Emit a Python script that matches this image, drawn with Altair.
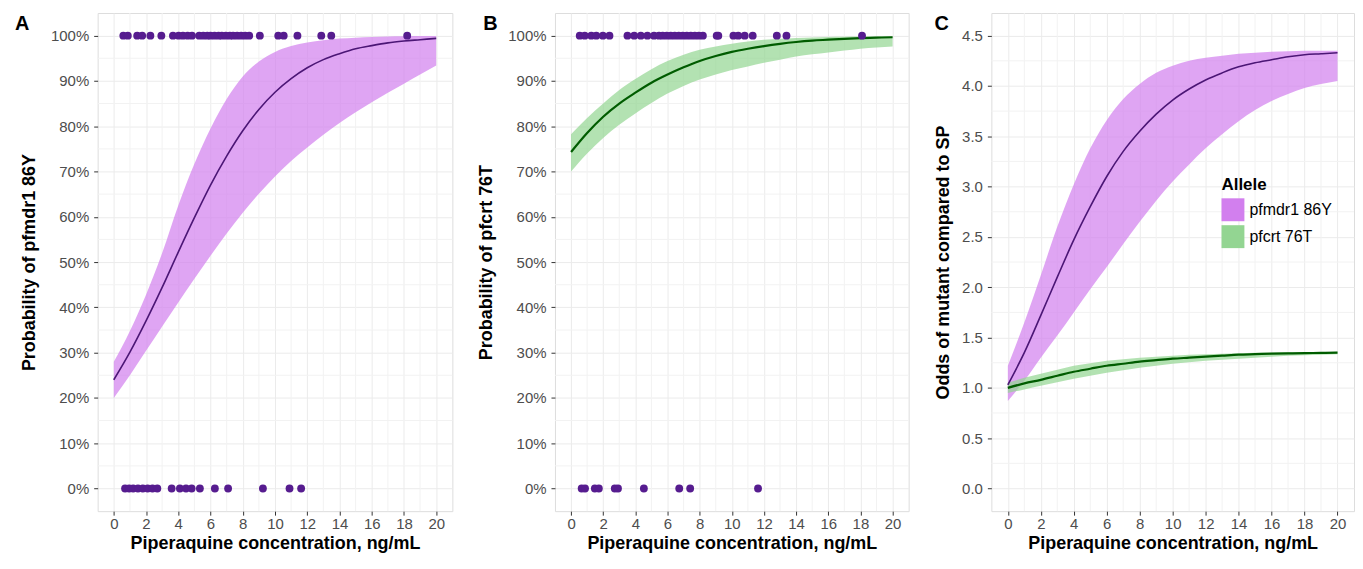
import altair as alt
import pandas as pd

FONT = "Liberation Sans"

# ---------------- data ----------------
conc = list(range(21))  # piperaquine concentration, ng/mL

# Panel A: probability of pfmdr1 86Y (%)
a_fit = [24.0, 30.1, 37.0, 44.4, 52.2, 59.8, 67.0, 73.4, 79.0, 83.7, 87.5, 90.5, 92.9, 94.7, 96.0, 97.1, 97.8, 98.4, 98.8, 99.1, 99.4]
a_lo = [20, 25, 30.4, 35.8, 41.1, 46.3, 51.4, 56.3, 60.9, 65.1, 68.9, 72.3, 75.3, 78.1, 80.7, 83.1, 85.3, 87.4, 89.4, 91.4, 93.4]
a_hi = [28, 34.8, 42.8, 52, 62.5, 71.7, 79.5, 86, 91, 94.3, 96.4, 97.7, 98.5, 99.0, 99.35, 99.55, 99.7, 99.8, 99.85, 99.9, 99.92]
a_mut = [0.59, 0.87, 1.45, 1.76, 2.27, 2.95, 3.67, 4.02, 4.29, 4.58, 4.85, 5.3, 5.55, 5.8, 6.0, 6.25, 6.5,
         6.7, 6.95, 7.2, 7.4, 7.65, 7.9, 8.15, 8.4, 9.06, 10.2, 10.54, 11.39, 12.87, 13.49, 18.2]
a_wt = [0.7, 0.95, 1.2, 1.5, 1.8, 2.1, 2.4, 2.7, 3.59, 4.1, 4.48, 4.83, 5.34, 6.27, 7.09, 9.25, 10.9, 11.62]

# Panel B: probability of pfcrt 76T (%)
b_fit = [74.3, 78.5, 82.1, 85.0, 87.4, 89.6, 91.4, 93.0, 94.4, 95.5, 96.4, 97.1, 97.7, 98.2, 98.6, 98.9, 99.1, 99.3, 99.45, 99.55, 99.65]
b_lo = [70.0, 74.0, 77.4, 80.3, 82.8, 85.1, 87.2, 88.9, 90.3, 91.4, 92.4, 93.2, 94.0, 94.7, 95.4, 95.9, 96.3, 96.7, 97.1, 97.4, 97.6]
b_hi = [78.2, 81.8, 85.0, 88.0, 90.4, 92.6, 94.4, 95.8, 96.9, 97.6, 98.2, 98.7, 99.1, 99.3, 99.5, 99.6, 99.7, 99.75, 99.8, 99.82, 99.85]
b_mut = [0.54, 0.85, 1.26, 1.57, 1.98, 2.39, 3.51, 3.93, 4.34, 4.75, 5.16, 5.47, 5.7, 5.95, 6.2, 6.45, 6.7, 6.95,
         7.2, 7.45, 7.7, 7.95, 8.2, 9.06, 9.16, 10.1, 10.4, 10.8, 11.3, 12.8, 13.4, 18.1]
b_wt = [0.66, 0.87, 1.48, 1.73, 2.72, 2.92, 4.53, 6.73, 7.41, 11.63]

# Panel C: odds of mutant compared to SP
alleles = ["pfmdr1 86Y", "pfcrt 76T"]
c_m_fit = [1.03, 1.35, 1.72, 2.1, 2.47, 2.8, 3.1, 3.35, 3.55, 3.72, 3.86, 3.97, 4.06, 4.13, 4.19, 4.23, 4.26, 4.29, 4.31, 4.32, 4.33]
c_m_lo = [0.87, 1.07, 1.3, 1.52, 1.75, 1.98, 2.2, 2.43, 2.65, 2.86, 3.05, 3.22, 3.38, 3.52, 3.65, 3.76, 3.85, 3.92, 3.98, 4.02, 4.05]
c_m_hi = [1.22, 1.65, 2.12, 2.6, 3.02, 3.38, 3.66, 3.87, 4.02, 4.13, 4.2, 4.25, 4.28, 4.3, 4.32, 4.33, 4.34, 4.345, 4.35, 4.35, 4.35]
c_g_fit = [1.0, 1.045, 1.08, 1.12, 1.16, 1.19, 1.22, 1.24, 1.26, 1.275, 1.29, 1.30, 1.31, 1.32, 1.33, 1.335, 1.34, 1.343, 1.345, 1.348, 1.35]
c_g_lo = [0.95, 0.985, 1.02, 1.055, 1.09, 1.12, 1.15, 1.175, 1.2, 1.22, 1.24, 1.255, 1.27, 1.28, 1.29, 1.30, 1.31, 1.318, 1.325, 1.33, 1.335]
c_g_hi = [1.05, 1.1, 1.14, 1.18, 1.22, 1.245, 1.27, 1.285, 1.30, 1.31, 1.32, 1.328, 1.335, 1.34, 1.345, 1.348, 1.35, 1.353, 1.355, 1.357, 1.36]

x_ticks = [0, 2, 4, 6, 8, 10, 12, 14, 16, 18, 20]
x_minor = [1, 3, 5, 7, 9, 11, 13, 15, 17, 19]
p_ticks = [0, 0.1, 0.2, 0.3, 0.4, 0.5, 0.6, 0.7, 0.8, 0.9, 1.0]
p_minor = [0.05, 0.15, 0.25, 0.35, 0.45, 0.55, 0.65, 0.75, 0.85, 0.95]
o_ticks = [0, 0.5, 1.0, 1.5, 2.0, 2.5, 3.0, 3.5, 4.0, 4.5]
o_minor = [0.25, 0.75, 1.25, 1.75, 2.25, 2.75, 3.25, 3.75, 4.25]

# ---------------- styling ----------------
PINK = "#D27FEE"
GREEN = "#93D592"
POINT = "#561C8F"
PLINE = "#4B1675"
GLINE = "#005C00"
GRID = "#EBEBEB"
MINOR = "#F2F2F2"

XSCALE = alt.Scale(domain=[-1, 21], nice=False, zero=False)
PSCALE = alt.Scale(domain=[-0.05, 1.05], nice=False, zero=False)
OSCALE = alt.Scale(domain=[-0.225, 4.725], nice=False, zero=False)


def x_axis():
    return alt.Axis(values=x_ticks, title="Piperaquine concentration, ng/mL", grid=True, gridColor=GRID,
                    gridWidth=1, domain=False, tickColor="#333333", tickSize=4, tickWidth=1,
                    labelColor="#4D4D4D", labelFontSize=15, labelPadding=1, labelFont=FONT,
                    labelFlush=False, labelOverlap=False, titleFont=FONT, titleFontSize=18,
                    titleFontWeight="bold", titleColor="#000000", titlePadding=3)


def y_axis(values, fmt, title, tpad):
    return alt.Axis(values=values, format=fmt, title=title, grid=True, gridColor=GRID, gridWidth=1,
                    domain=False, tickColor="#333333", tickSize=4, tickWidth=1,
                    labelColor="#4D4D4D", labelFontSize=15, labelPadding=5, labelFont=FONT,
                    labelFlush=False, labelOverlap=False, titleFont=FONT, titleFontSize=18,
                    titleFontWeight="bold", titleColor="#000000", titlePadding=tpad)


def grid_layers(yscale, yax, yminor):
    gx = alt.Chart(pd.DataFrame({"x": x_minor})).mark_rule(color=MINOR, strokeWidth=1).encode(
        x=alt.X("x:Q", scale=XSCALE, axis=x_axis()))
    gy = alt.Chart(pd.DataFrame({"y": yminor})).mark_rule(color=MINOR, strokeWidth=1).encode(
        y=alt.Y("y:Q", scale=yscale, axis=yax))
    return [gx, gy]


def letter_layer(letter, dx):
    return alt.Chart(pd.DataFrame({"t": [letter]})).mark_text(
        align="left", baseline="alphabetic", fontSize=20, fontWeight="bold", color="#000000", font=FONT
    ).encode(x=alt.value(dx), y=alt.value(17), text="t:N")


def prob_panel(letter, dx, title, fit, lo, hi, mut, wt, fill, lcolor, lwidth, width):
    yax = y_axis(p_ticks, ".0%", title, 12)
    band_df = pd.DataFrame({"x": conc, "lo": [v / 100 for v in lo], "hi": [v / 100 for v in hi],
                            "y": [v / 100 for v in fit]})
    pts_df = pd.DataFrame({"x": mut + wt, "y": [1] * len(mut) + [0] * len(wt)})
    X = alt.X("x:Q", scale=XSCALE, axis=x_axis())
    band = alt.Chart(band_df).mark_area(fill=fill, fillOpacity=0.7, interpolate="monotone").encode(
        x=X, y=alt.Y("lo:Q", scale=PSCALE, axis=yax), y2="hi:Q")
    line = alt.Chart(band_df).mark_line(color=lcolor, strokeWidth=lwidth, interpolate="monotone").encode(
        x=X, y=alt.Y("y:Q", scale=PSCALE, axis=yax))
    pts = alt.Chart(pts_df).mark_circle(size=62, color=POINT, opacity=1).encode(
        x=X, y=alt.Y("y:Q", scale=PSCALE, axis=yax))
    return alt.layer(*grid_layers(PSCALE, yax, p_minor), band, line, pts,
                     letter_layer(letter, dx)).properties(width=width, height=500)


panel_a = prob_panel("A", -83, "Probability of pfmdr1 86Y", a_fit, a_lo, a_hi, a_mut, a_wt,
                     PINK, PLINE, 1.6, 356)
panel_b = prob_panel("B", -72, "Probability of pfcrt 76T", b_fit, b_lo, b_hi, b_mut, b_wt,
                     GREEN, GLINE, 2.2, 355)

# Panel C
c_df = pd.DataFrame({
    "x": conc + conc,
    "allele": [alleles[0]] * 21 + [alleles[1]] * 21,
    "series": ["m"] * 21 + ["g"] * 21,
    "y": c_m_fit + c_g_fit,
    "lo": c_m_lo + c_g_lo,
    "hi": c_m_hi + c_g_hi,
})
c_yax = y_axis(o_ticks, ".1f", "Odds of mutant compared to SP", 9)
Xc = alt.X("x:Q", scale=XSCALE, axis=x_axis())
c_band = alt.Chart(c_df).mark_area(fillOpacity=0.7, interpolate="monotone", strokeWidth=0).encode(
    x=Xc, y=alt.Y("lo:Q", scale=OSCALE, axis=c_yax), y2="hi:Q",
    fill=alt.Fill("allele:N", sort=alleles,
                  scale=alt.Scale(domain=alleles, range=[PINK, GREEN]),
                  legend=alt.Legend(title="Allele", orient="none", legendX=1128, legendY=165,
                                    titleFont=FONT, titleFontSize=17, titleFontWeight="bold",
                                    titleColor="#000000", titlePadding=4, labelFont=FONT,
                                    labelFontSize=16, labelColor="#000000", labelOffset=5,
                                    symbolType="square", symbolSize=529, symbolOpacity=1,
                                    symbolStrokeWidth=0, symbolStrokeColor="transparent",
                                    rowPadding=4, padding=0)),
)
c_line = alt.Chart(c_df).mark_line(interpolate="monotone").encode(
    x=Xc, y=alt.Y("y:Q", scale=OSCALE, axis=c_yax),
    stroke=alt.Stroke("series:N", scale=alt.Scale(domain=["m", "g"], range=[PLINE, GLINE]), legend=None),
    strokeWidth=alt.StrokeWidth("series:N", scale=alt.Scale(domain=["m", "g"], range=[1.6, 2.2]), legend=None),
)
panel_c = alt.layer(*grid_layers(OSCALE, c_yax, o_minor), c_band, c_line,
                    letter_layer("C", -57)).properties(width=364, height=500)

chart = alt.hconcat(panel_a, panel_b, panel_c, spacing=24).properties(
    padding={"left": 6, "top": 3, "right": 0, "bottom": 0}
).configure_view(stroke="#333333", strokeWidth=1.1).configure(font=FONT, background="white")

chart.save("out.html", embed_options={"renderer": "svg", "actions": False})
